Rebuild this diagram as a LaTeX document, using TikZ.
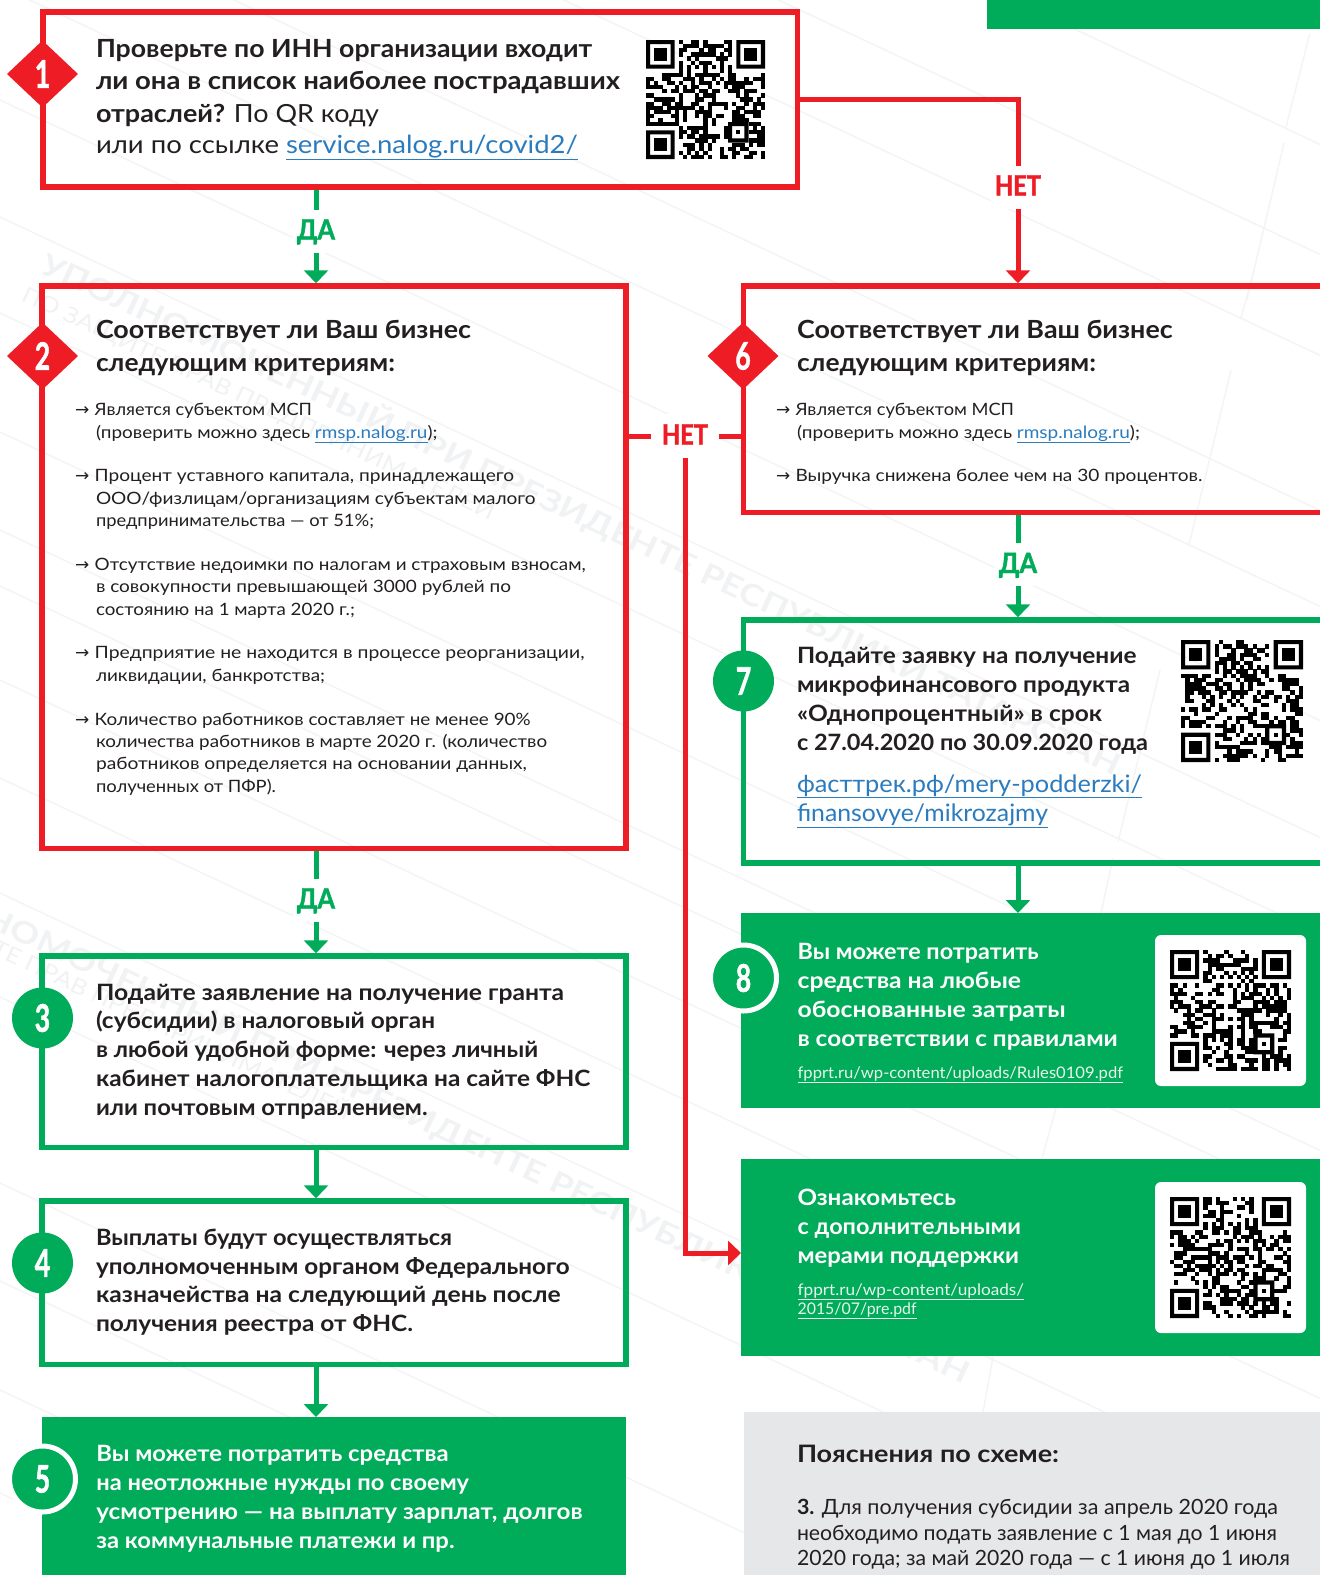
\documentclass[tikz,border=0pt]{standalone}
\usepackage{fontspec}
\usepackage{graphicx}
\setmainfont{Lato}
\newfontfamily\arrowfont{DejaVu Sans}
\newfontfamily\numfont[BoldFont=Lato Bold,BoldFeatures={FakeBold=1.6}]{Lato}
\usetikzlibrary{arrows.meta,shapes.geometric}
\definecolor{fredc}{HTML}{EE1C25}
\definecolor{fgrn}{HTML}{00AB59}
\definecolor{ink}{HTML}{231F20}
\definecolor{linkc}{HTML}{2B7CBF}
\definecolor{wmark}{HTML}{F1F2F3}
\definecolor{wline}{HTML}{F3F4F4}
\definecolor{greyb}{HTML}{E6E7E8}
\definecolor{linkw}{HTML}{E8F6EE}
\newcommand\fA{\fontsize{25}{30}\selectfont\bfseries\color{ink}}
\newcommand\fAr{\fontsize{25}{30}\selectfont\mdseries\color{ink}}
\newcommand\fB{\fontsize{22.5}{28}\selectfont\bfseries\color{ink}}
\newcommand\fC{\fontsize{17}{22}\selectfont\color{ink}}
\newcommand\fW{\fontsize{22.5}{28}\selectfont\bfseries\color{white}}
\newcommand\fL{\fontsize{24}{28}\selectfont\color{linkc}}
\newcommand\fK{\fontsize{16}{19}\selectfont\color{linkw}}
\newcommand\fG{\fontsize{21}{26}\selectfont\color{ink}}
\newcommand\fH{\fontsize{24}{28}\selectfont\bfseries\color{ink}}
\newcommand\lnk[1]{{\color{linkc}\underline{#1}}}
\newcommand\lnw[1]{\underline{#1}}
\newcount\tlc
\newbox\tlbox
% text line fitted between x0 and x1 at baseline y
\newcommand\tl[5]{\global\advance\tlc by 1
  \node[anchor=base west,inner sep=0pt,outer sep=0pt] (tl\the\tlc) at (#1,#3)
  {\setbox\tlbox=\hbox{#4#5}\pgfmathsetmacro\xr{(#2-#1)/\wd\tlbox}\scalebox{\xr}[1]{\box\tlbox}};}
% watermark line
\newcommand\wm[6]{\global\advance\tlc by 1
  \node[anchor=base west,inner sep=0pt,outer sep=0pt,rotate=-25.1] (tl\the\tlc) at (#1,#2)
  {\setbox\tlbox=\hbox{\fontsize{#3}{#3}\selectfont#4\color{wmark}#6}\pgfmathsetmacro\xr{#5/\wd\tlbox}\scalebox{\xr}[1]{\box\tlbox}};}
\newcommand\arrowmark[2]{\global\advance\tlc by 1
  \node[anchor=base west,inner sep=0pt,outer sep=0pt] (tl\the\tlc) at (#1,#2) {\arrowfont\fontsize{17}{20}\selectfont\color{ink}\char"2192};}
\newcommand\boxnode[6]{\pgfmathsetmacro\bw{#5-#3}\pgfmathsetmacro\bh{#6-#4}%
  \node[#2,minimum width=\bw pt,minimum height=\bh pt] (#1) at ({(#3+#5)/2},{(#4+#6)/2}) {};}
\newcommand\connlab[6]{%
  \node[connl,text=#6,minimum width=#5pt+8pt] (#1) at (#2,#3) {\setbox\tlbox=\hbox{\numfont\fontsize{28}{30}\selectfont\bfseries #4}\pgfmathsetmacro\xr{#5/\wd\tlbox}\scalebox{\xr}[1]{\box\tlbox}};}
\newcommand\num[1]{\scalebox{0.7}[1]{\numfont\fontsize{38}{38}\selectfont\bfseries #1}}
% QR-like pattern
\newcommand\qrcode[4]{%
  \pgfmathsetseed{#4}%
  \pgfmathsetmacro\qm{#3/29}%
  \foreach \qr in {0,...,28}{\foreach \qc in {0,...,28}{%
    \pgfmathsetmacro\qv{rnd}%
    \pgfmathtruncatemacro\qf{(((\qc<8)&&(\qr<8))||((\qc>20)&&(\qr<8))||((\qc<8)&&(\qr>20))||((\qc>19)&&(\qc<25)&&(\qr>19)&&(\qr<25)))?1:0}%
    \pgfmathtruncatemacro\qt{((\qr==6)||(\qc==6))?1:0}%
    \ifnum\qf=0
      \ifnum\qt=1
        \pgfmathtruncatemacro\qv{mod(\qr+\qc+1,2)}%
      \else
        \pgfmathtruncatemacro\qv{\qv<0.5?1:0}%
      \fi
      \ifnum\qv=1
        \fill[black] ({#1+\qc*\qm},{#2+\qr*\qm}) rectangle ({#1+(\qc+1)*\qm+0.1},{#2+(\qr+1)*\qm+0.1});
      \fi
    \fi
  }}%
  \foreach \qa/\qb in {0/0,22/0,0/22}{%
    \fill[black,even odd rule] ({#1+\qa*\qm},{#2+\qb*\qm}) rectangle ({#1+(\qa+7)*\qm},{#2+(\qb+7)*\qm})
      ({#1+(\qa+1)*\qm},{#2+(\qb+1)*\qm}) rectangle ({#1+(\qa+6)*\qm},{#2+(\qb+6)*\qm});
    \fill[black] ({#1+(\qa+2)*\qm},{#2+(\qb+2)*\qm}) rectangle ({#1+(\qa+5)*\qm},{#2+(\qb+5)*\qm});
  }%
  \fill[black,even odd rule] ({#1+20*\qm},{#2+20*\qm}) rectangle ({#1+25*\qm},{#2+25*\qm})
      ({#1+21*\qm},{#2+21*\qm}) rectangle ({#1+24*\qm},{#2+24*\qm});
  \fill[black] ({#1+22*\qm},{#2+22*\qm}) rectangle ({#1+23*\qm},{#2+23*\qm});
}
\tikzset{
  redbox/.style={draw=fredc,line width=5.5pt,inner sep=0pt},
  grnbox/.style={draw=fgrn,line width=5.5pt,inner sep=0pt},
  grnfill/.style={fill=fgrn,inner sep=0pt,outer sep=0pt},
  greyfill/.style={fill=greyb,inner sep=0pt,outer sep=0pt},
  qrcard/.style={fill=white,rounded corners=6pt,inner sep=0pt,outer sep=0pt},
  redln/.style={draw=fredc,line width=5pt},
  grnln/.style={draw=fgrn,line width=5pt},
  redtip/.style={redln,-{Triangle[width=24pt,length=13pt]}},
  grntip/.style={grnln,-{Triangle[width=24pt,length=13pt]}},
  connl/.style={fill=white,inner sep=0pt,outer sep=0pt,text height=17pt,text depth=0pt,minimum height=43pt},
  dmd/.style={diamond,fill=fredc,text=white,inner sep=0pt,outer sep=0pt,aspect=1.06,minimum width=71pt,minimum height=67pt},
  circ/.style={circle,fill=fgrn,text=white,inner sep=0pt,outer sep=0pt,minimum size=61pt},
  ring/.style={circle,fill=fgrn,draw=white,line width=5pt,text=white,inner sep=0pt,outer sep=0pt,minimum size=66pt},
  wml/.style={draw=wline,line width=1.4pt}
}
\begin{document}
\begin{tikzpicture}[x=1pt,y=-1pt]
\useasboundingbox (0,0) rectangle (1320,1575);
\clip (0,0) rectangle (1320,1575);
\fill[white] (0,0) rectangle (1320,1575);
% watermark lines
\foreach \b in {-476,-366,-265,-110,-14,100,217,313,432,530,586,680,778,893,997,1183,1281,1390,1493}{
  \draw[wml] (-10,{\b-4.7}) -- (1330,{\b+0.47*1330});
}
\draw[wml] (1310,33) -- (1286,127);
\draw[wml] (1284,143) -- (1247,300);
\draw[wml] (1254,270) -- (1241,318);
\draw[wml] (1231,370) -- (1189,545);
\draw[wml] (1160,670) -- (1118,842);
\draw[wml] (1113,858) -- (1101,913);
\draw[wml] (1056,1108) -- (1042,1158);
\draw[wml] (993,1357) -- (983,1412);
% watermark text
\wm{38}{272}{30}{\bfseries}{1188}{УПОЛНОМОЧЕННЫЙ ПРИ ПРЕЗИДЕНТЕ РЕСПУБЛИКИ ТАТАРСТАН}
\wm{-113}{880}{30}{\bfseries}{1188}{УПОЛНОМОЧЕННЫЙ ПРИ ПРЕЗИДЕНТЕ РЕСПУБЛИКИ ТАТАРСТАН}
\wm{20}{300}{22}{}{519}{ПО ЗАЩИТЕ ПРАВ ПРЕДПРИНИМАТЕЛЕЙ}
\wm{-124}{900}{22}{}{519}{ПО ЗАЩИТЕ ПРАВ ПРЕДПРИНИМАТЕЛЕЙ}
% corner bar
\boxnode{bar}{grnfill}{987}{-10}{1330}{29}
% boxes
\boxnode{b1}{redbox}{43}{12}{797.5}{187}
\boxnode{b2}{redbox}{42}{286}{626}{848.5}
\boxnode{b3}{grnbox}{42}{956}{626}{1147.5}
\boxnode{b4}{grnbox}{42}{1201}{626}{1364.5}
\boxnode{b5}{grnfill}{42}{1417}{626}{1600}
\boxnode{b6}{redbox}{743.5}{286}{1345}{512.5}
\boxnode{b7}{grnbox}{743.5}{620}{1345}{863}
\boxnode{b8}{grnfill}{741}{913}{1345}{1108}
\boxnode{b9}{grnfill}{741}{1159}{1345}{1356}
\boxnode{b10}{greyfill}{744}{1412}{1345}{1600}
\boxnode{qc8}{qrcard}{1155}{935}{1306}{1086}
\boxnode{qc9}{qrcard}{1155}{1182}{1306}{1333}
% connector labels
\connlab{da1}{316}{231}{ДА}{38}{fgrn}
\connlab{da2}{1018}{564.5}{ДА}{38}{fgrn}
\connlab{da3}{316}{900}{ДА}{38}{fgrn}
\connlab{n1}{1018}{187}{НЕТ}{46}{fredc}
\node[connl,text=fredc,minimum width=68pt,minimum height=44pt] (n2) at (685,436)
  {\setbox\tlbox=\hbox{\numfont\fontsize{28}{30}\selectfont\bfseries НЕТ}\pgfmathsetmacro\xr{46/\wd\tlbox}\scalebox{\xr}[1]{\box\tlbox}};
\coordinate (c1) at (1018,99);
\coordinate (c2) at (685,1253);
% connectors
\draw[grnln] (b1.south -| da1) -- (da1.north);
\draw[grntip] (da1.south) -- (da1.south |- b2.north);
\draw[grnln] (b2.south -| da3) -- (da3.north);
\draw[grntip] (da3.south) -- (da3.south |- b3.north);
\draw[grntip] (b3.south -| da3) -- (da3 |- b4.north);
\draw[grntip] (b4.south -| da3) -- (da3 |- b5.north);
\draw[redln] (b1.east |- c1) -- (c1) -- (n1.north);
\draw[redtip] (n1.south) -- (n1.south |- b6.north);
\draw[redln] (b2.east |- n2) -- (n2.west);
\draw[redln] (n2.east) -- (b6.west |- n2);
\draw[redtip] (n2.south) -- (c2) -- (b9.west |- c2);
\draw[grnln] (b6.south -| da2) -- (da2.north);
\draw[grntip] (da2.south) -- (da2.south |- b7.north);
\draw[grntip] (b7.south -| da2) -- (da2 |- b8.north);
% badges
\node[dmd] (k1) at (42.5,74) {\num{1}};
\node[dmd] (k2) at (42.5,356) {\num{2}};
\node[circ] (k3) at (42.5,1018) {\num{3}};
\node[circ] (k4) at (42.5,1263) {\num{4}};
\node[ring] (k5) at (42.5,1479) {\num{5}};
\node[dmd] (k6) at (743,356) {\num{6}};
\node[circ] (k7) at (743.5,681) {\num{7}};
\node[ring] (k8) at (743.5,978) {\num{8}};
% box 1
\tl{96}{592}{57}{\fA}{Проверьте по ИНН организации входит}
\tl{96}{620}{89.7}{\fA}{ли она в список наиболее пострадавших}
\tl{96}{379}{122}{\fA}{отраслей? {\fAr По QR коду}}
\tl{96}{578}{153.7}{\fAr}{или по ссылке \lnk{service.nalog.ru/covid2/}}
% box 2
\tl{96}{471}{338.5}{\fA}{Соответствует ли Ваш бизнес}
\tl{96}{395}{371}{\fA}{следующим критериям:}
\arrowmark{75}{415}
\tl{94.7}{312}{415}{\fC}{Является субъектом МСП}
\tl{96}{437.5}{438}{\fC}{(проверить можно здесь \lnk{rmsp.nalog.ru});}
\arrowmark{75}{481}
\tl{94.7}{514}{481}{\fC}{Процент уставного капитала, принадлежащего}
\tl{96}{535.5}{504}{\fC}{ООО/физлицам/организациям субъектам малого}
\tl{96}{374}{526}{\fC}{предпринимательства — от 51\%;}
\arrowmark{75}{570}
\tl{94.7}{585.7}{570}{\fC}{Отсутствие недоимки по налогам и страховым взносам,}
\tl{96}{511}{592}{\fC}{в совокупности превышающей 3000 рублей по}
\tl{96}{355}{615}{\fC}{состоянию на 1 марта 2020 г.;}
\arrowmark{75}{658}
\tl{94.7}{584.5}{658}{\fC}{Предприятие не находится в процессе реорганизации,}
\tl{96}{325}{681.5}{\fC}{ликвидации, банкротства;}
\arrowmark{75}{725}
\tl{94.7}{530.6}{725}{\fC}{Количество работников составляет не менее 90\%}
\tl{96}{547}{747.3}{\fC}{количества работников в марте 2020 г. (количество}
\tl{96}{527}{769.5}{\fC}{работников определяется на основании данных,}
\tl{96}{276}{792.3}{\fC}{полученных от ПФР).}
% box 3
\tl{96}{564}{1000}{\fB}{Подайте заявление на получение гранта}
\tl{96}{435}{1028.5}{\fB}{(субсидии) в налоговый орган}
\tl{96}{538}{1057}{\fB}{в любой удобной форме: через личный}
\tl{96}{590.4}{1086}{\fB}{кабинет налогоплательщика на сайте ФНС}
\tl{96}{427.5}{1115}{\fB}{или почтовым отправлением.}
% box 4
\tl{96}{452}{1245}{\fB}{Выплаты будут осуществляться}
\tl{96}{569.6}{1274}{\fB}{уполномоченным органом Федерального}
\tl{96}{560.6}{1302.5}{\fB}{казначейства на следующий день после}
\tl{96}{413}{1331.5}{\fB}{получения реестра от ФНС.}
% box 5
\tl{96.3}{448.6}{1461}{\fW}{Вы можете потратить средства}
\tl{96.3}{469}{1490}{\fW}{на неотложные нужды по своему}
\tl{96.3}{582.5}{1519}{\fW}{усмотрению — на выплату зарплат, долгов}
\tl{96.3}{454.5}{1548}{\fW}{за коммунальные платежи и пр.}
% box 6
\tl{797}{1172.7}{338.5}{\fA}{Соответствует ли Ваш бизнес}
\tl{797}{1096}{371}{\fA}{следующим критериям:}
\arrowmark{776}{415}
\tl{795.5}{1014}{415}{\fC}{Является субъектом МСП}
\tl{797}{1140}{438}{\fC}{(проверить можно здесь \lnk{rmsp.nalog.ru});}
\arrowmark{776}{481}
\tl{795.5}{1202.6}{481}{\fC}{Выручка снижена более чем на 30 процентов.}
% box 7
\tl{797}{1136.5}{663}{\fB}{Подайте заявку на получение}
\tl{797}{1130}{692}{\fB}{микрофинансового продукта}
\tl{797}{1102}{721}{\fB}{«Однопроцентный» в срок}
\tl{797}{1148}{750}{\fB}{с 27.04.2020 по 30.09.2020 года}
\tl{797}{1142}{792}{\fL}{\lnk{фасттрек.рф/mery-podderzki/}}
\tl{797}{1048}{821}{\fL}{\lnk{finansovye/mikrozajmy}}
% box 8
\tl{797.6}{1038.7}{959}{\fW}{Вы можете потратить}
\tl{797.6}{1021}{988.7}{\fW}{средства на любые}
\tl{797.6}{1065.6}{1017.7}{\fW}{обоснованные затраты}
\tl{797.6}{1117.8}{1046.7}{\fW}{в соответствии с правилами}
\tl{797.6}{1123}{1078}{\fK}{\lnw{fpprt.ru/wp-content/uploads/Rules0109.pdf}}
% box 9
\tl{797.6}{956}{1205}{\fW}{Ознакомьтесь}
\tl{797.6}{1021}{1234}{\fW}{с дополнительными}
\tl{797.6}{1019}{1263.3}{\fW}{мерами поддержки}
\tl{797.6}{1024}{1295}{\fK}{\lnw{fpprt.ru/wp-content/uploads/}}
\tl{797.6}{916.6}{1314}{\fK}{\lnw{2015/07/pre.pdf}}
% grey panel
\tl{797}{1059}{1462.5}{\fH}{Пояснения по схеме:}
\tl{797}{1278}{1514.5}{\fG}{{\bfseries 3.} Для получения субсидии за апрель 2020 года}
\tl{797}{1277}{1540}{\fG}{необходимо подать заявление с 1 мая до 1 июня}
\tl{797}{1290}{1565}{\fG}{2020 года; за май 2020 года — с 1 июня до 1 июля}
% QR codes
\qrcode{646}{40}{119}{11}
\qrcode{1181}{640}{122}{23}
\qrcode{1170}{950}{121}{37}
\qrcode{1170}{1197}{121}{53}
\end{tikzpicture}
\end{document}
